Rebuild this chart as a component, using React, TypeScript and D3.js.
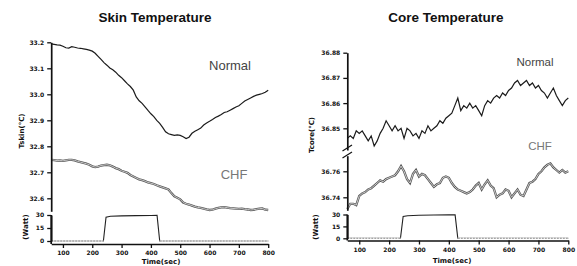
import React, { useEffect, useRef } from 'react'
import * as d3 from 'd3'

// samples every 10 s starting at 60 s
const T0 = 60
const DT = 10

const skinNormal = [
  33.194, 33.192, 33.190, 33.189, 33.185, 33.179, 33.178, 33.183, 33.181, 33.178,
  33.177, 33.175, 33.173, 33.170, 33.166, 33.158, 33.146, 33.134, 33.122, 33.112,
  33.101, 33.094, 33.085, 33.073, 33.064, 33.052, 33.040, 33.030, 33.016, 32.990,
  32.975, 32.965, 32.952, 32.938, 32.925, 32.914, 32.900, 32.888, 32.873, 32.856,
  32.848, 32.845, 32.842, 32.844, 32.842, 32.837, 32.830, 32.835, 32.850, 32.858,
  32.864, 32.870, 32.882, 32.890, 32.896, 32.903, 32.911, 32.916, 32.922, 32.930,
  32.933, 32.939, 32.945, 32.951, 32.956, 32.965, 32.974, 32.980, 32.986, 32.992,
  32.997, 33.000, 33.003, 33.008, 33.016,
]

const skinChf = [
  32.748, 32.747, 32.745, 32.746, 32.744, 32.746, 32.748, 32.748, 32.746, 32.742,
  32.739, 32.736, 32.733, 32.729, 32.723, 32.720, 32.722, 32.726, 32.728, 32.729,
  32.727, 32.722, 32.716, 32.712, 32.706, 32.702, 32.698, 32.690, 32.684, 32.678,
  32.673, 32.670, 32.666, 32.661, 32.658, 32.655, 32.650, 32.646, 32.642, 32.638,
  32.634, 32.620, 32.608, 32.602, 32.596, 32.584, 32.579, 32.576, 32.572, 32.568,
  32.565, 32.563, 32.560, 32.557, 32.555, 32.556, 32.560, 32.563, 32.565, 32.566,
  32.564, 32.562, 32.561, 32.560, 32.559, 32.560, 32.558, 32.557, 32.555, 32.556,
  32.558, 32.560, 32.561, 32.556, 32.555,
]

const coreNormal = [
  36.846, 36.847, 36.846, 36.849, 36.848, 36.849, 36.847, 36.845, 36.847, 36.843,
  36.845, 36.848, 36.850, 36.853, 36.851, 36.849, 36.851, 36.849, 36.850, 36.846,
  36.850, 36.849, 36.847, 36.848, 36.846, 36.849, 36.848, 36.851, 36.849, 36.850,
  36.851, 36.853, 36.852, 36.854, 36.855, 36.856, 36.859, 36.862, 36.857, 36.859,
  36.858, 36.860, 36.858, 36.859, 36.857, 36.855, 36.859, 36.861, 36.860, 36.862,
  36.863, 36.862, 36.864, 36.863, 36.865, 36.866, 36.868, 36.869, 36.867, 36.868,
  36.869, 36.867, 36.868, 36.866, 36.867, 36.865, 36.864, 36.862, 36.864, 36.866,
  36.863, 36.861, 36.859, 36.861, 36.862,
]

const coreChf = [
  36.731, 36.735, 36.735, 36.734, 36.741, 36.743, 36.744, 36.746, 36.747, 36.749,
  36.751, 36.753, 36.752, 36.754, 36.755, 36.756, 36.757, 36.760, 36.764, 36.760,
  36.754, 36.751, 36.758, 36.761, 36.756, 36.758, 36.757, 36.754, 36.751, 36.748,
  36.750, 36.751, 36.755, 36.756, 36.755, 36.751, 36.748, 36.746, 36.745, 36.744,
  36.743, 36.744, 36.746, 36.749, 36.751, 36.746, 36.750, 36.753, 36.749, 36.747,
  36.740, 36.742, 36.743, 36.746, 36.745, 36.740, 36.743, 36.746, 36.742, 36.741,
  36.746, 36.751, 36.752, 36.754, 36.758, 36.760, 36.763, 36.765, 36.766, 36.763,
  36.761, 36.759, 36.761, 36.759, 36.760,
]

const wattTimes = [60, 238, 247, 262, 300, 350, 400, 421, 430, 800]
const wattValues = [0, 0, 27.5, 28.5, 29, 29.3, 29.5, 29.6, 0, 0]

const timeTicks = [100, 200, 300, 400, 500, 600, 700, 800]
const skinTicks = [33.2, 33.1, 33.0, 32.9, 32.8, 32.7, 32.6]
const coreNormalTicks = [36.88, 36.87, 36.86, 36.85]
const coreChfTicks = [36.76, 36.74]
const wattTicks = [0, 15, 30]

type Pt = [number, number]
const toPts = (vals: number[]): Pt[] => vals.map((v, i) => [T0 + i * DT, v])

const TICK_FONT = 'DejaVu Sans, sans-serif'
const LABEL_FONT = 'Liberation Sans, Arial, sans-serif'

export default function App() {
  const ref = useRef<SVGSVGElement>(null)

  useEffect(() => {
    const svg = d3.select(ref.current)
    svg.selectAll('*').remove()

    const styleAxis = (g: d3.Selection<SVGGElement, unknown, null, undefined>) => {
      g.select('.domain').attr('stroke', '#111').attr('stroke-width', 1.7)
      g.selectAll('.tick line').attr('stroke', '#111').attr('stroke-width', 1.3)
      g.selectAll('.tick text')
        .attr('font-family', TICK_FONT)
        .attr('font-weight', 'bold')
        .attr('font-size', 6)
        .attr('fill', '#111')
    }

    const yAxis = (scale: d3.ScaleLinear<number, number>, x0: number, ticks: number[], fmt: string) => {
      const g = svg.append('g').attr('transform', `translate(${x0},0)`)
      g.call(d3.axisLeft(scale).tickValues(ticks).tickSize(4).tickSizeOuter(0).tickPadding(3).tickFormat(d3.format(fmt)))
      styleAxis(g)
    }

    const xAxis = (scale: d3.ScaleLinear<number, number>, y0: number) => {
      const g = svg.append('g').attr('transform', `translate(0,${y0})`)
      g.call(d3.axisBottom(scale).tickValues(timeTicks).tickSize(4).tickSizeOuter(0).tickPadding(3).tickFormat(d3.format('d')))
      styleAxis(g)
    }

    const line = (x: d3.ScaleLinear<number, number>, y: d3.ScaleLinear<number, number>) =>
      d3.line<Pt>().x(d => x(d[0])).y(d => y(d[1]))

    const trace = (pts: Pt[], x: any, y: any, hollow: boolean) => {
      const path = line(x, y)(pts)
      if (hollow) {
        svg.append('path').attr('d', path).attr('fill', 'none').attr('stroke', '#555').attr('stroke-width', 2.3)
        svg.append('path').attr('d', path).attr('fill', 'none').attr('stroke', '#d6d6d6').attr('stroke-width', 0.9)
      } else {
        svg.append('path').attr('d', path).attr('fill', 'none').attr('stroke', '#1c1c1c').attr('stroke-width', 1.2)
      }
    }

    // watt trace: active part dark, resting (0 W) part light grey and dotted
    const wattTrace = (x: any, y: any) => {
      const pts: Pt[] = wattTimes.map((t, i) => [t, wattValues[i]])
      svg.append('path').attr('d', line(x, y)(pts)).attr('fill', 'none')
        .attr('stroke', '#222').attr('stroke-width', 1.1)
      const rest = d3.line<Pt>().defined(d => d[1] === 0).x(d => x(d[0])).y(d => y(d[1]))
      svg.append('path').attr('d', rest(pts)).attr('fill', 'none')
        .attr('stroke', '#fff').attr('stroke-width', 1.6)
      svg.append('path').attr('d', rest(pts)).attr('fill', 'none')
        .attr('stroke', '#888').attr('stroke-width', 1.1).attr('stroke-dasharray', '2,1')
    }

    const text = (s: string, x: number, y: number, size: number, opts: any = {}) => {
      const t = svg.append('text').attr('x', x).attr('y', y).text(s)
        .attr('font-family', opts.family || LABEL_FONT)
        .attr('font-size', size)
        .attr('font-weight', opts.bold ? 'bold' : 'normal')
        .attr('fill', opts.fill || '#111')
        .attr('text-anchor', 'middle')
      if (opts.rotate) t.attr('transform', `rotate(-90,${x},${y})`)
      return t
    }

    // ---- Skin temperature ----
    const xL = d3.scaleLinear().domain([60, 800]).range([51.2, 268.2])
    const ySkin = d3.scaleLinear().domain([32.55, 33.2]).range([211.3, 42.3])
    const yWattL = d3.scaleLinear().domain([0, 30]).range([241, 215])

    trace(toPts(skinNormal), xL, ySkin, false)
    trace(toPts(skinChf), xL, ySkin, true)
    wattTrace(xL, yWattL)

    yAxis(ySkin, 51.2, skinTicks, '.1f')
    yAxis(yWattL, 51.2, wattTicks, 'd')
    svg.append('line').attr('x1', 51.2).attr('x2', 51.2).attr('y1', 215).attr('y2', 244).attr('stroke', '#111').attr('stroke-width', 1.7)
    xAxis(xL, 244)

    text('Skin Temperature', 155, 22, 13.5, { bold: true })
    text('Normal', 230, 70, 13, { fill: '#444' })
    text('CHF', 234, 179, 13, { fill: '#777' })
    text('Tskin(°C)', 24, 131, 7, { bold: true, family: TICK_FONT, rotate: true })
    text('(Watt)', 28, 227, 7, { bold: true, family: TICK_FONT, rotate: true })
    text('Time(sec)', 161, 264, 7, { bold: true, family: TICK_FONT })

    // ---- Core temperature ----
    const xR = d3.scaleLinear().domain([60, 800]).range([347.3, 568.3])
    const yCoreN = d3.scaleLinear().domain([36.8414, 36.88]).range([150, 52.7])
    const yCoreC = d3.scaleLinear().domain([36.73, 36.772]).range([210.3, 155.7])
    const yWattR = d3.scaleLinear().domain([0, 30]).range([238.3, 214.5])

    trace(toPts(coreNormal), xR, yCoreN, false)
    trace(toPts(coreChf), xR, yCoreC, true)
    wattTrace(xR, yWattR)

    yAxis(yCoreN, 347.3, coreNormalTicks, '.2f')
    yAxis(yCoreC, 347.3, coreChfTicks, '.2f')
    yAxis(yWattR, 347.3, wattTicks, 'd')
    svg.append('line').attr('x1', 347.3).attr('x2', 347.3).attr('y1', 214.5).attr('y2', 240.5).attr('stroke', '#111').attr('stroke-width', 1.7)
    xAxis(xR, 240.5)

    // axis break marks
    ;[[151, 145], [158, 152]].forEach(([a, b]) => {
      svg.append('line').attr('x1', 342.5).attr('y1', a).attr('x2', 352).attr('y2', b)
        .attr('stroke', '#111').attr('stroke-width', 1.2)
    })

    text('Core Temperature', 446, 22, 13.5, { bold: true })
    text('Normal', 535, 66, 11.5, { fill: '#444' })
    text('CHF', 540, 150, 11.5, { fill: '#777' })
    text('Tcore(°C)', 314, 135, 7, { bold: true, family: TICK_FONT, rotate: true })
    text('(Watt)', 318, 227, 7, { bold: true, family: TICK_FONT, rotate: true })
    text('Time(sec)', 452, 263, 7, { bold: true, family: TICK_FONT })
  }, [])

  return (
    <svg ref={ref} width={577} height={266} style={{ position: 'absolute', left: 0, top: 0, background: '#fff' }} />
  )
}
